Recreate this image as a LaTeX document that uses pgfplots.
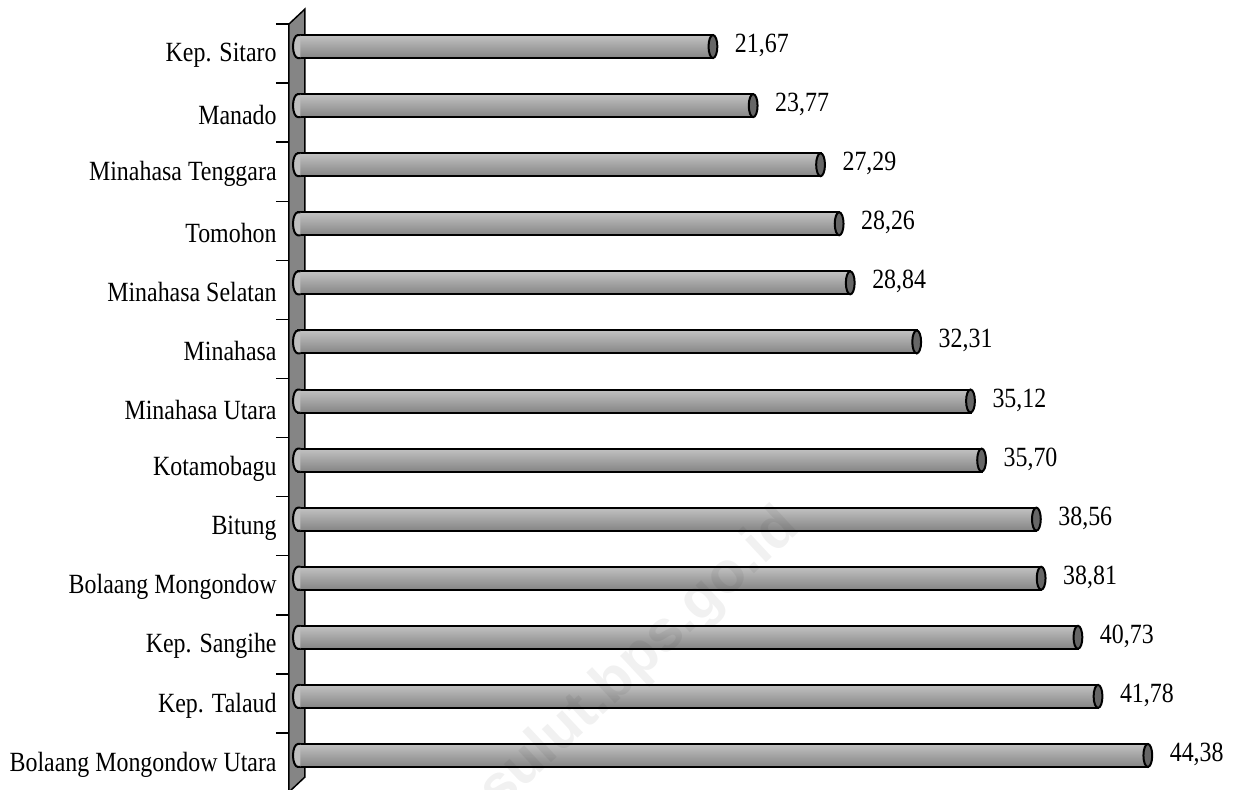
\documentclass[border=0pt]{standalone}
\usepackage{pgfplots}
\pgfplotsset{compat=1.18}
\usepackage{fontspec}
\setmainfont{Liberation Serif}[FakeStretch=0.86]
\newfontfamily\wmfont{Liberation Sans}
\newcommand\lblfont{\fontsize{13.9}{16}\selectfont}
\pgfdeclareplotmark{lcap}{\pgfpathmoveto{\pgfqpoint{1.2pt}{5.75pt}}\pgfpathlineto{\pgfqpoint{0pt}{5.75pt}}\pgfpatharc{90}{270}{2.5pt and 5.75pt}\pgfpathlineto{\pgfqpoint{1.2pt}{-5.75pt}}\pgfusepath{fill,stroke}}
\pgfdeclareplotmark{rcap}{\pgfpathellipse{\pgfpointorigin}{\pgfqpoint{2.2pt}{0pt}}{\pgfqpoint{0pt}{5.75pt}}\pgfusepath{fill,stroke}}
\pgfplotsset{cyl/.style={xbar, bar shift=0pt, bar width=11.5pt, draw=black, line width=1pt,
  top color=black!24, middle color=black!14, bottom color=black!48,
  nodes near coords, point meta=x,
  every node near coord/.style={anchor=west, inner sep=0pt, xshift=10.5pt, yshift=0.5pt, text=black, font=\lblfont}}}
\begin{document}
\begin{tikzpicture}
\useasboundingbox (0,0) rectangle (622pt,394.5pt);
\begin{axis}[at={(149pt,2pt)}, anchor=south west, scale only axis,
  width=450pt, height=384pt, xmin=0, xmax=47, ymin=-0.5, ymax=12.5,
  clip=false, hide x axis, y axis line style={draw=none}, ytick style={draw=none},
  ytick={0,...,12},
  yticklabels={Bolaang Mongondow Utara, Kep. Talaud, Kep. Sangihe, Bolaang Mongondow, Bitung, Kotamobagu, Minahasa Utara, Minahasa, Minahasa Selatan, Tomohon, Minahasa Tenggara, Manado, Kep. Sitaro},
  yticklabel style={font=\lblfont, anchor=east, inner sep=0pt, xshift=-10.5pt, yshift=-4.5pt},
  /pgf/number format/.cd, use comma, fixed, fixed zerofill, precision=2, assume math mode=true]
\draw[fill=black!48, line width=0.75pt] (axis cs:-0.47,12.381) -- (axis cs:0.365,12.635) -- (axis cs:0.365,-0.364) -- (axis cs:-0.47,-0.618) -- cycle;
\pgfplotsinvokeforeach{0,...,13}{\draw[line width=0.75pt] (axis cs:-1.149,{12.381-#1}) -- (axis cs:-0.47,{12.381-#1});}
\addplot[cyl] coordinates {(44.38,0)};
\addplot[cyl] coordinates {(41.78,1)};
\addplot[cyl] coordinates {(40.73,2)};
\addplot[cyl] coordinates {(38.81,3)};
\addplot[cyl] coordinates {(38.56,4)};
\addplot[cyl] coordinates {(35.70,5)};
\addplot[cyl] coordinates {(35.12,6)};
\addplot[cyl] coordinates {(32.31,7)};
\addplot[cyl] coordinates {(28.84,8)};
\addplot[cyl] coordinates {(28.26,9)};
\addplot[cyl] coordinates {(27.29,10)};
\addplot[cyl] coordinates {(23.77,11)};
\addplot[cyl] coordinates {(21.67,12)};
\addplot[only marks, mark=lcap, mark options={draw=black, fill=black!25, line width=1pt}] coordinates {(0,0) (0,1) (0,2) (0,3) (0,4) (0,5) (0,6) (0,7) (0,8) (0,9) (0,10) (0,11) (0,12)};
\addplot[only marks, mark=rcap, mark options={draw=black, fill=black!60, line width=1pt}] coordinates {(44.38,0) (41.78,1) (40.73,2) (38.81,3) (38.56,4) (35.70,5) (35.12,6) (32.31,7) (28.84,8) (28.26,9) (27.29,10) (23.77,11) (21.67,12)};
\end{axis}
\node[rotate=43, opacity=0.055, font=\wmfont\fontsize{29}{30}\selectfont\bfseries] at (320pt,64.5pt) {sulut.bps.go.id};
\end{tikzpicture}
\end{document}
